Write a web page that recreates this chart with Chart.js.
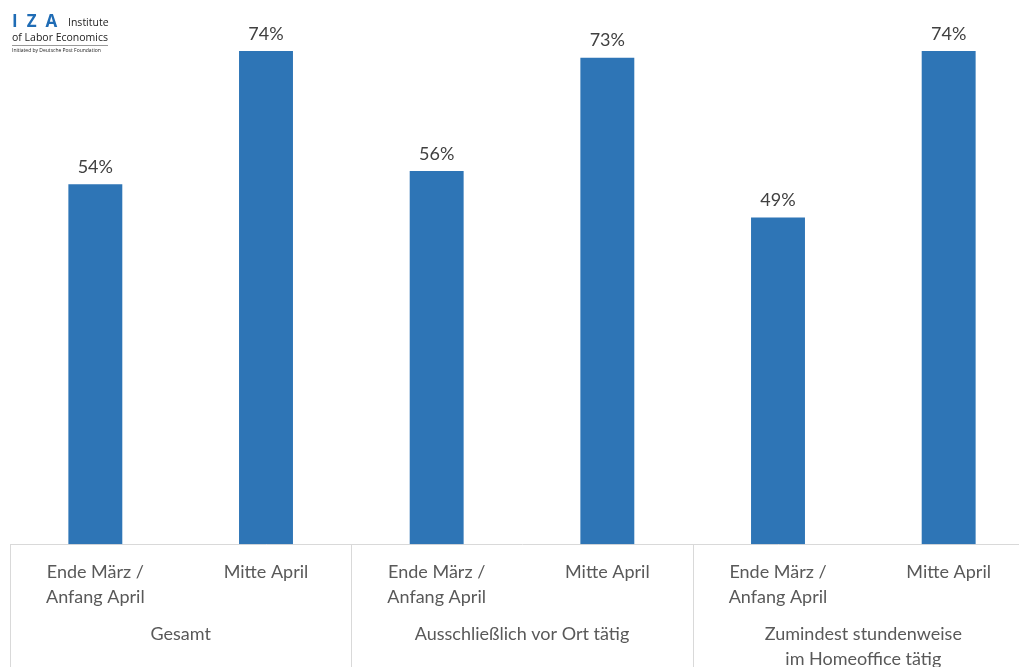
<!DOCTYPE html>
<html>
<head>
<meta charset="utf-8">
<script src="https://cdn.jsdelivr.net/npm/chart.js@4"></script>
<style>
  html, body { margin: 0; padding: 0; overflow: hidden; background: #fff; }
  #wrap { position: relative; width: 1034px; height: 669px; }
  #logo { position: absolute; left: 12px; top: 11px; font-family: "Open Sans", sans-serif; color: #222; }
  #logo .iza { color: #1f6cb5; font-weight: bold; font-size: 17px; letter-spacing: 9px; line-height: 20px; }
  #logo .inst { font-size: 10.5px; position: absolute; left: 56px; top: 4px; white-space: nowrap; }
  #logo .labor { font-size: 10.5px; white-space: nowrap; margin-top: -1px; }
  #logo .line { border-top: 1px solid #999; width: 96px; margin-top: 1px; }
  #logo .found { font-size: 5px; white-space: nowrap; margin-top: 1px; }
</style>
</head>
<body>
<div id="wrap">
  <canvas id="myChart"></canvas>
  <div id="logo">
    <div class="iza">IZA</div>
    <div class="inst">Institute</div>
    <div class="labor">of Labor Economics</div>
    <div class="line"></div>
    <div class="found">Initiated by Deutsche Post Foundation</div>
  </div>
</div>
<script>
var periods = [
  ['Ende März /', 'Anfang April'], 'Mitte April',
  ['Ende März /', 'Anfang April'], 'Mitte April',
  ['Ende März /', 'Anfang April'], 'Mitte April'
];
var groups = ['Gesamt', 'Ausschließlich vor Ort tätig', ['Zumindest stundenweise', 'im Homeoffice tätig']];
var shares = [54, 74, 56, 73, 49, 74];

var textColor = '#595959';
var lineColor = '#d9d9d9';

var valueLabels = {
  id: 'valueLabels',
  afterDatasetsDraw: function (chart) {
    var c = chart.ctx;
    var meta = chart.getDatasetMeta(0);
    c.save();
    c.font = '18px Lato';
    c.fillStyle = '#404040';
    c.textAlign = 'center';
    c.textBaseline = 'bottom';
    meta.data.forEach(function (bar, i) {
      c.fillText(shares[i] + '%', bar.x, bar.y - 8);
    });
    c.restore();
  }
};

var groupLines = {
  id: 'groupLines',
  afterDraw: function (chart) {
    var x = chart.scales.x;
    var c = chart.ctx;
    var half = (x.getPixelForValue(1) - x.getPixelForValue(0)) / 2;
    c.save();
    c.strokeStyle = lineColor;
    c.lineWidth = 1;
    for (var i = 0; i <= periods.length; i += 2) {
      var px = Math.round(x.getPixelForValue(i) - half) + 0.5;
      c.beginPath();
      c.moveTo(px, chart.chartArea.bottom);
      c.lineTo(px, chart.height);
      c.stroke();
    }
    c.restore();
  }
};

var ctx = document.getElementById('myChart');
new Chart(ctx, {
  type: 'bar',
  data: {
    labels: periods,
    datasets: [{
      data: shares,
      backgroundColor: '#2e75b6',
      barPercentage: 0.316,
      categoryPercentage: 1
    }]
  },
  options: {
    responsive: true,
    maintainAspectRatio: false,
    animation: false,
    layout: { padding: { left: 10, top: 11, right: 0, bottom: 0 } },
    plugins: { legend: { display: false }, tooltip: { enabled: false } },
    scales: {
      y: { display: false, min: 0, max: 80 },
      x: {
        grid: { display: false },
        border: { display: true, color: lineColor, width: 1 },
        ticks: {
          color: textColor,
          font: { family: 'Lato', size: 18, lineHeight: 1.4 },
          padding: 7,
          maxRotation: 0,
          autoSkip: false
        }
      },
      x2: {
        type: 'category',
        position: 'bottom',
        labels: groups,
        grid: { display: false },
        border: { display: false },
        ticks: {
          color: textColor,
          font: { family: 'Lato', size: 18, lineHeight: 1.4 },
          padding: -3,
          maxRotation: 0,
          autoSkip: false
        }
      }
    }
  },
  plugins: [valueLabels, groupLines]
});
</script>
</body>
</html>
